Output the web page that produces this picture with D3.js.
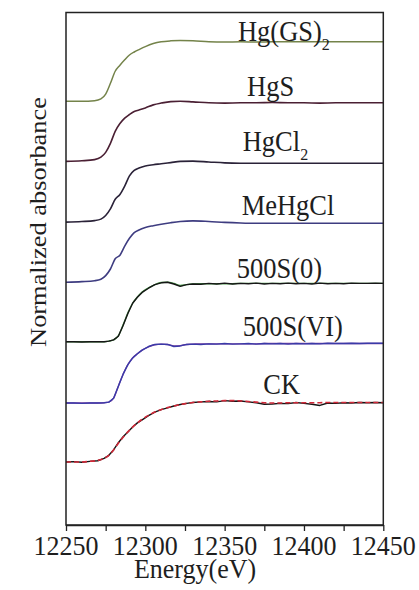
<!DOCTYPE html>
<html><head><meta charset="utf-8">
<script src="https://cdn.jsdelivr.net/npm/d3@7"></script>
<style>html,body{margin:0;padding:0;background:#fff;}svg{display:block;}</style>
</head><body>
<svg id="chart" width="419" height="590"></svg>
<script>
// ---------- data ----------
const seriesNames = ["Hg(GS)2", "HgS", "HgCl2", "MeHgCl", "500S(0)", "500S(VI)", "CK"];
const offsets = [6, 5, 4, 3, 2, 1, 0];
const xTicks = [12250, 12275, 12300, 12325, 12350, 12375, 12400, 12425, 12450];
const xTickLabels = [12250, 12300, 12350, 12400, 12450];

const energyStd = [12250, 12260, 12268, 12272, 12275, 12278, 12281, 12284, 12287, 12290, 12293, 12296, 12300, 12305, 12310, 12316, 12322, 12330, 12340, 12350, 12360, 12370, 12380, 12390, 12400, 12410, 12420, 12430, 12440, 12450];
const hgGS2 = [0, 0, 0.01, 0.04, 0.12, 0.30, 0.50, 0.60, 0.69, 0.77, 0.82, 0.86, 0.91, 0.96, 0.99, 1.005, 1.01, 1.005, 0.99, 0.985, 0.99, 0.985, 0.99, 0.99, 0.99, 0.99, 0.99, 0.99, 0.99, 0.99];
const hgS = [0, 0.01, 0.03, 0.07, 0.15, 0.30, 0.50, 0.63, 0.72, 0.78, 0.83, 0.855, 0.89, 0.94, 0.97, 0.995, 1.0, 0.99, 0.975, 0.97, 0.975, 0.975, 0.98, 0.975, 0.975, 0.97, 0.975, 0.975, 0.975, 0.975];
const hgCl2 = [-0.01, 0, 0.015, 0.04, 0.10, 0.21, 0.37, 0.45, 0.59, 0.76, 0.85, 0.89, 0.925, 0.945, 0.96, 0.98, 1.0, 1.005, 0.99, 0.975, 0.97, 0.97, 0.97, 0.97, 0.97, 0.97, 0.97, 0.97, 0.97, 0.97];
const meHgCl = [-0.01, 0, 0.015, 0.04, 0.10, 0.21, 0.38, 0.44, 0.59, 0.72, 0.815, 0.86, 0.90, 0.93, 0.955, 0.98, 1.0, 1.01, 1.0, 0.985, 0.975, 0.97, 0.97, 0.97, 0.97, 0.97, 0.97, 0.97, 0.97, 0.97];

const energySmp = [12250, 12255, 12260, 12265, 12270, 12274, 12277, 12280, 12283, 12286, 12289, 12292, 12295, 12298, 12302, 12306, 12310, 12314, 12318, 12322, 12326, 12330, 12335, 12340, 12345, 12350, 12355, 12360, 12365, 12370, 12375, 12380, 12385, 12390, 12395, 12400, 12405, 12410, 12415, 12420, 12425, 12430, 12435, 12440, 12445, 12450];
const s0Data = [0, 0, -0.005, 0, 0, 0, 0.01, 0.03, 0.09, 0.27, 0.47, 0.64, 0.74, 0.82, 0.89, 0.95, 0.98, 0.99, 0.96, 0.92, 0.95, 0.96, 0.955, 0.97, 0.96, 0.975, 0.96, 0.97, 0.965, 0.975, 0.96, 0.97, 0.965, 0.975, 0.965, 0.97, 0.96, 0.975, 0.965, 0.97, 0.965, 0.975, 0.97, 0.97, 0.975, 0.97];
const s0Fit = [0, 0, 0, 0, 0, 0, 0.01, 0.03, 0.10, 0.28, 0.48, 0.64, 0.745, 0.825, 0.895, 0.95, 0.985, 0.99, 0.97, 0.935, 0.95, 0.96, 0.965, 0.965, 0.965, 0.965, 0.965, 0.97, 0.97, 0.97, 0.97, 0.97, 0.97, 0.97, 0.97, 0.97, 0.97, 0.97, 0.97, 0.97, 0.97, 0.97, 0.97, 0.97, 0.97, 0.97];
const s6Data = [-0.02, -0.02, -0.025, -0.02, -0.02, -0.015, -0.005, 0.06, 0.26, 0.46, 0.62, 0.73, 0.80, 0.86, 0.92, 0.955, 0.96, 0.955, 0.92, 0.93, 0.955, 0.96, 0.955, 0.965, 0.96, 0.97, 0.96, 0.965, 0.97, 0.96, 0.97, 0.965, 0.97, 0.96, 0.97, 0.965, 0.97, 0.965, 0.975, 0.97, 0.97, 0.975, 0.97, 0.975, 0.975, 0.975];
const s6Fit = [-0.02, -0.02, -0.02, -0.02, -0.02, -0.015, -0.005, 0.06, 0.26, 0.46, 0.62, 0.73, 0.80, 0.86, 0.915, 0.95, 0.96, 0.955, 0.93, 0.935, 0.955, 0.96, 0.965, 0.965, 0.965, 0.965, 0.965, 0.965, 0.965, 0.965, 0.97, 0.97, 0.97, 0.97, 0.97, 0.97, 0.97, 0.97, 0.97, 0.97, 0.97, 0.97, 0.97, 0.97, 0.97, 0.97];
const ckData = [0, 0.005, -0.005, 0.01, 0.02, 0.06, 0.11, 0.20, 0.32, 0.42, 0.50, 0.58, 0.65, 0.70, 0.77, 0.83, 0.87, 0.90, 0.93, 0.955, 0.975, 0.99, 1.0, 1.005, 1.0, 1.02, 1.01, 1.015, 1.0, 0.985, 0.96, 0.965, 0.975, 0.97, 0.99, 0.975, 0.96, 0.94, 0.98, 0.975, 0.985, 0.98, 0.99, 0.985, 0.99, 0.985];
const ckFit = [0, 0, 0, 0.01, 0.025, 0.06, 0.11, 0.20, 0.31, 0.41, 0.50, 0.58, 0.65, 0.71, 0.775, 0.83, 0.87, 0.905, 0.93, 0.955, 0.975, 0.99, 1.0, 1.01, 1.015, 1.02, 1.02, 1.015, 1.005, 0.995, 0.985, 0.98, 0.98, 0.985, 0.985, 0.985, 0.985, 0.985, 0.99, 0.99, 0.99, 0.99, 0.99, 0.99, 0.99, 0.99];

// label anchors in data coords (energy, absorbance)
const labelEnergy = [12358.4, 12364.1, 12361.4, 12360.7, 12357.6, 12361.4, 12374.4];
const labelLevel = [7.0, 6.083, 5.167, 4.10, 3.064, 2.087, 1.127];

// ---------- drawing ----------
const svg = d3.select("#chart");
const L = 66, R = 383.3, T = 12.5, B = 525;
const x = d3.scaleLinear().domain([12250, 12450]).range([L, R]);
const y = d3.scaleLinear().domain([-1.049, 7.477]).range([B, T]);
const SERIF = "'Liberation Serif', 'Times New Roman', serif";

const lines = [
  {e: energyStd, v: hgGS2, off: offsets[0], color: "#74834a", w: 1.5, curve: d3.curveMonotoneX},
  {e: energyStd, v: hgS, off: offsets[1], color: "#4a1f33", w: 1.6, curve: d3.curveMonotoneX},
  {e: energyStd, v: hgCl2, off: offsets[2], color: "#2a2238", w: 1.6, curve: d3.curveMonotoneX},
  {e: energyStd, v: meHgCl, off: offsets[3], color: "#3e3c80", w: 1.6, curve: d3.curveMonotoneX},
  {e: energySmp, v: s0Fit, off: offsets[4], color: "#4a9a4a", w: 1.4, curve: d3.curveMonotoneX},
  {e: energySmp, v: s0Data, off: offsets[4], color: "#161616", w: 1.4, curve: d3.curveLinear},
  {e: energySmp, v: s6Fit, off: offsets[5], color: "#8040a0", w: 1.4, curve: d3.curveMonotoneX},
  {e: energySmp, v: s6Data, off: offsets[5], color: "#3a3aa8", w: 1.4, curve: d3.curveLinear},
  {e: energySmp, v: ckData, off: offsets[6], color: "#141414", w: 1.4, curve: d3.curveLinear},
  {e: energySmp, v: ckFit, off: offsets[6], color: "#d02838", w: 1.6, curve: d3.curveMonotoneX, dash: "5,3"}
];

lines.forEach(s => {
  const pts = s.e.map((e, i) => [e, s.v[i] + s.off]);
  const gen = d3.line().x(d => x(d[0])).y(d => y(d[1])).curve(s.curve);
  svg.append("path").attr("d", gen(pts)).attr("fill", "none")
    .attr("stroke", s.color).attr("stroke-width", s.w)
    .attr("stroke-linejoin", "round")
    .attr("stroke-dasharray", s.dash || null);
});

// frame
svg.append("rect").attr("x", L).attr("y", T).attr("width", R - L).attr("height", B - T)
  .attr("fill", "none").attr("stroke", "#222").attr("stroke-width", 1.5);

// x axis (ticks only; labels drawn below)
const xAxis = d3.axisBottom(x).tickValues(xTicks).tickSize(6).tickSizeOuter(0).tickFormat("");
const gx = svg.append("g").attr("transform", `translate(0,${B})`).call(xAxis);
gx.select(".domain").attr("stroke", "#222").attr("stroke-width", 1.5);
gx.selectAll(".tick line").attr("stroke", "#222").attr("stroke-width", 1.3);
gx.selectAll(".tick text").remove();

function addText(parent, transform, str, size, anchor) {
  return parent.append("text").attr("transform", transform)
    .attr("text-anchor", anchor || "start")
    .style("font-family", SERIF).style("font-size", size + "px")
    .attr("fill", "#1e1e1e").text(str);
}

xTickLabels.forEach(v => addText(svg, `translate(${x(v)},555) scale(1,1.08)`, String(v), 26, "middle"));

// axis titles
addText(svg, `translate(195,578) scale(1,1.08)`, "Energy(eV)", 26, "middle");
addText(svg, `translate(46,222) scale(1,1.1) rotate(-90)`, "Normalized absorbance", 24, "middle");

// series labels
seriesNames.forEach((name, i) => {
  const tr = `translate(${x(labelEnergy[i])},${y(labelLevel[i])}) scale(1,1.1)`;
  if (name === "Hg(GS)2" || name === "HgCl2") {
    const t = addText(svg, tr, "", 26.5);
    t.append("tspan").text(name.slice(0, -1));
    t.append("tspan").style("font-size", "16px").attr("dy", 8).text("2");
  } else {
    addText(svg, tr, name, 26.5);
  }
});
</script>
</body></html>
